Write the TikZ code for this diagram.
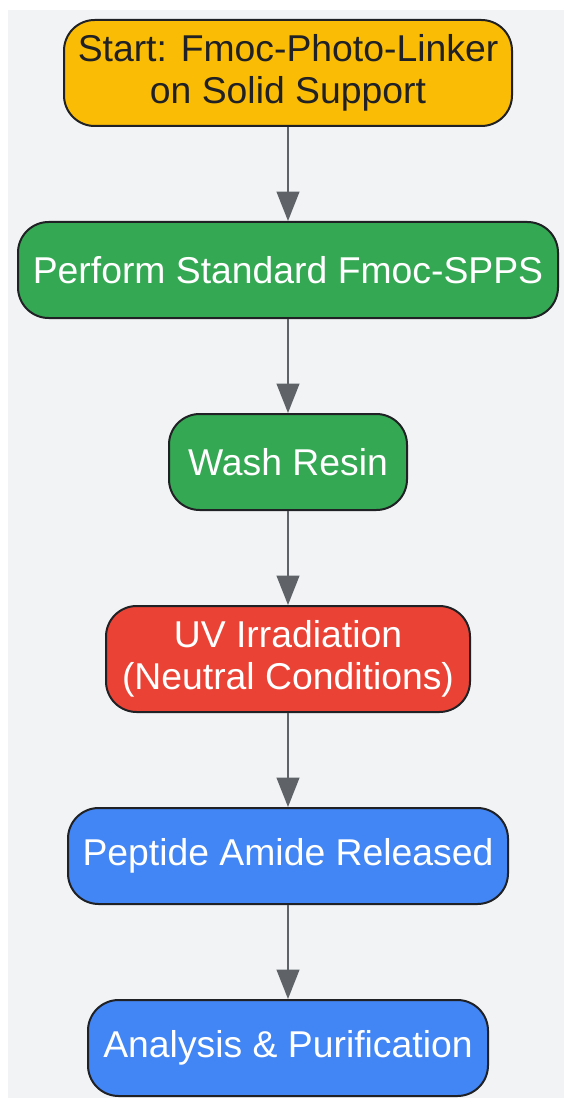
\documentclass[tikz,border=0pt]{standalone}
\usepackage{fontspec}
\setmainfont{Liberation Sans}
\usetikzlibrary{arrows.meta,positioning}

\definecolor{bgGray}{HTML}{F1F3F4}
\definecolor{startYellow}{HTML}{FBBC05}
\definecolor{stepGreen}{HTML}{34A853}
\definecolor{cutRed}{HTML}{EA4335}
\definecolor{endBlue}{HTML}{4285F4}
\definecolor{edgeDark}{HTML}{202124}
\definecolor{arrowGray}{HTML}{5F6368}

\begin{document}
\begin{tikzpicture}[
        x=0.75pt, y=-0.75pt,
        box/.style={draw=edgeDark, line width=1.5pt, rounded corners=23pt,
            align=center, font=\fontsize{28}{31.5}\selectfont, inner sep=0pt},
        flow/.style={-{Triangle[length=22pt,width=17pt]}, draw=arrowGray,
            fill=arrowGray, line width=1.5pt}
    ]

    % background panel
    \useasboundingbox (0,0) rectangle (564,1098);
    \fill[bgGray] (8,10) rectangle (564,1098);

    % steps
    \node[box, fill=startYellow, text=edgeDark, minimum width=448*0.75pt, minimum height=106*0.75pt]
        (start) at (288,73) {Start: Fmoc-Photo-Linker\\on Solid Support};
    \node[box, fill=stepGreen, text=white, minimum width=540*0.75pt, minimum height=96*0.75pt]
        (spps) at (288,270) {Perform Standard Fmoc-SPPS};
    \node[box, fill=stepGreen, text=white, minimum width=238*0.75pt, minimum height=96*0.75pt]
        (wash) at (288,462) {Wash Resin};
    \node[box, fill=cutRed, text=white, minimum width=364*0.75pt, minimum height=106*0.75pt]
        (uv) at (288,659) {UV Irradiation\\(Neutral Conditions)};
    \node[box, fill=endBlue, text=white, minimum width=440*0.75pt, minimum height=96*0.75pt]
        (release) at (288,856) {Peptide Amide Released};
    \node[box, fill=endBlue, text=white, minimum width=400*0.75pt, minimum height=96*0.75pt]
        (analysis) at (288,1048) {Analysis \& Purification};

    % arrows
    \draw[flow] (start) -- (spps);
    \draw[flow] (spps) -- (wash);
    \draw[flow] (wash) -- (uv);
    \draw[flow] (uv) -- (release);
    \draw[flow] (release) -- (analysis);

\end{tikzpicture}
\end{document}
